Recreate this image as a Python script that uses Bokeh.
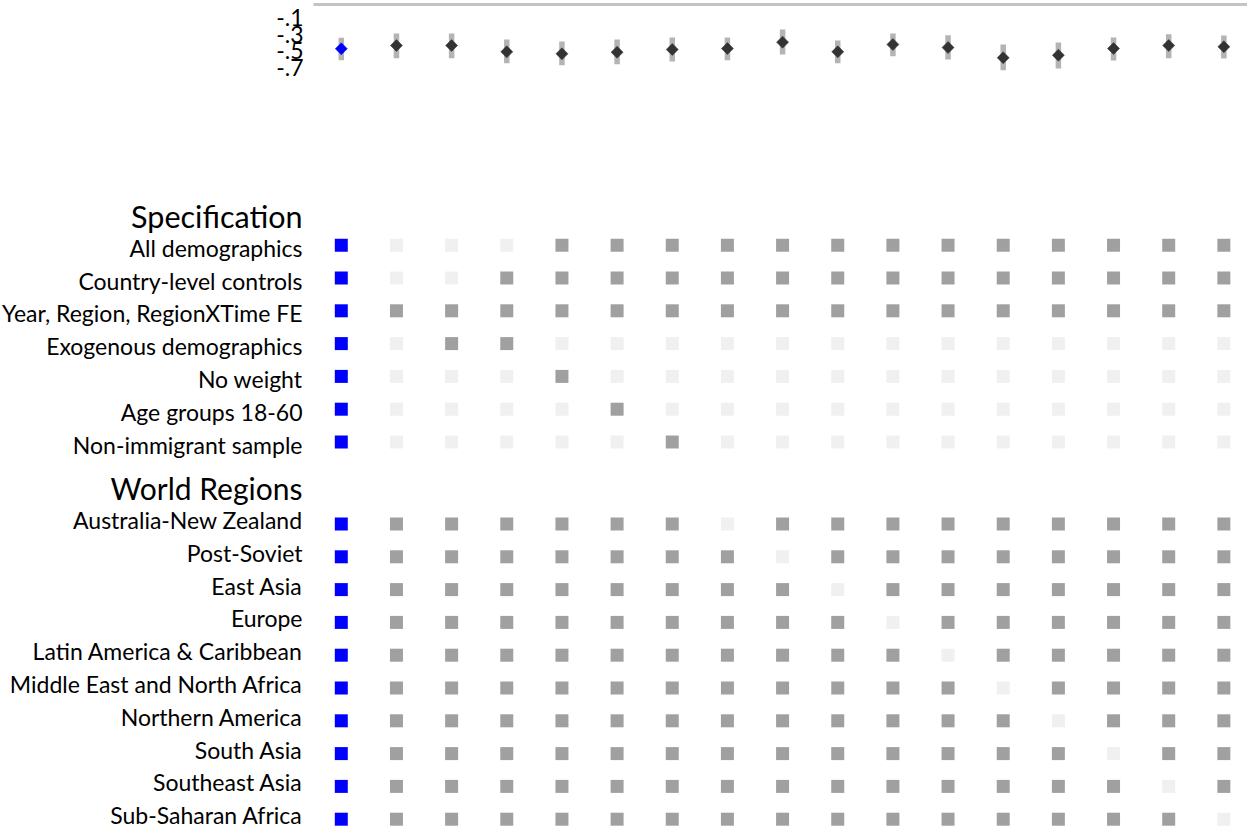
import math
from bokeh.plotting import figure
from bokeh.models import Range1d, ColumnDataSource
from bokeh.core.properties import value
from bokeh.embed import file_html
from bokeh.resources import INLINE

# ---------------- data ----------------
columns = list(range(1, 18))
coef = [-0.479, -0.439, -0.439, -0.516, -0.540, -0.521, -0.488, -0.476, -0.399,
        -0.516, -0.427, -0.464, -0.588, -0.557, -0.476, -0.439, -0.455]
ci_low = [-0.618, -0.593, -0.593, -0.654, -0.678, -0.666, -0.633, -0.618, -0.548,
          -0.654, -0.569, -0.609, -0.739, -0.718, -0.621, -0.593, -0.597]
ci_high = [-0.346, -0.294, -0.294, -0.367, -0.391, -0.367, -0.342, -0.342, -0.245,
           -0.379, -0.294, -0.315, -0.427, -0.403, -0.342, -0.302, -0.318]
y_ticks = [-0.1, -0.3, -0.5, -0.7]
y_tick_labels = ["-.1", "-.3", "-.5", "-.7"]
baseline_col = 1

spec_header = "Specification"
spec_labels = ["All demographics", "Country-level controls", "Year, Region, RegionXTime FE",
               "Exogenous demographics", "No weight", "Age groups 18-60", "Non-immigrant sample"]
spec_included = [
    [1, 0, 0, 0, 1, 1, 1, 1, 1, 1, 1, 1, 1, 1, 1, 1, 1],
    [1, 0, 0, 1, 1, 1, 1, 1, 1, 1, 1, 1, 1, 1, 1, 1, 1],
    [1, 1, 1, 1, 1, 1, 1, 1, 1, 1, 1, 1, 1, 1, 1, 1, 1],
    [1, 0, 1, 1, 0, 0, 0, 0, 0, 0, 0, 0, 0, 0, 0, 0, 0],
    [1, 0, 0, 0, 1, 0, 0, 0, 0, 0, 0, 0, 0, 0, 0, 0, 0],
    [1, 0, 0, 0, 0, 1, 0, 0, 0, 0, 0, 0, 0, 0, 0, 0, 0],
    [1, 0, 0, 0, 0, 0, 1, 0, 0, 0, 0, 0, 0, 0, 0, 0, 0],
]

region_header = "World Regions"
region_labels = ["Australia-New Zealand", "Post-Soviet", "East Asia", "Europe",
                 "Latin America & Caribbean", "Middle East and North Africa",
                 "Northern America", "South Asia", "Southeast Asia", "Sub-Saharan Africa"]
region_included = [
    [1, 1, 1, 1, 1, 1, 1, 0, 1, 1, 1, 1, 1, 1, 1, 1, 1],
    [1, 1, 1, 1, 1, 1, 1, 1, 0, 1, 1, 1, 1, 1, 1, 1, 1],
    [1, 1, 1, 1, 1, 1, 1, 1, 1, 0, 1, 1, 1, 1, 1, 1, 1],
    [1, 1, 1, 1, 1, 1, 1, 1, 1, 1, 0, 1, 1, 1, 1, 1, 1],
    [1, 1, 1, 1, 1, 1, 1, 1, 1, 1, 1, 0, 1, 1, 1, 1, 1],
    [1, 1, 1, 1, 1, 1, 1, 1, 1, 1, 1, 1, 0, 1, 1, 1, 1],
    [1, 1, 1, 1, 1, 1, 1, 1, 1, 1, 1, 1, 1, 0, 1, 1, 1],
    [1, 1, 1, 1, 1, 1, 1, 1, 1, 1, 1, 1, 1, 1, 0, 1, 1],
    [1, 1, 1, 1, 1, 1, 1, 1, 1, 1, 1, 1, 1, 1, 1, 0, 1],
    [1, 1, 1, 1, 1, 1, 1, 1, 1, 1, 1, 1, 1, 1, 1, 1, 0],
]

# ---------------- layout constants ----------------
FONT = "Lato"
BLUE = "#0000ff"
POINT = "#333333"
CI = "#b4b4b4"
ON = "#a0a0a0"
OFF = "#f0f0f0"
W, H = 1247, 828
PX_COL = 55.16          # pixels between columns
COL1_X = 340.8          # pixel position of column 1
PX_UNIT = 82.5          # pixels per unit of the coefficient scale
COEF_REF_PX = 17        # pixel position of -0.1
ROW_PX = 32.8           # pixels between matrix rows
ROW0_PX = 244.7         # pixel position of first matrix row
LINE_X0_PX = 313        # left end of the top rule
LINE_Y_PX = 4
LABEL_RIGHT_PX = 302

x_start = 1 - COL1_X / PX_COL
x_end = x_start + W / PX_COL
coef_top = -0.1 + COEF_REF_PX / PX_UNIT
row_top = -ROW0_PX / ROW_PX

p = figure(width=W, height=H, output_backend="svg", toolbar_location=None,
           x_axis_location=None, y_axis_location=None,
           x_range=Range1d(x_start, x_end),
           y_range=Range1d(row_top + H / ROW_PX, row_top),
           min_border_left=0, min_border_right=0, min_border_top=0, min_border_bottom=0)
p.extra_y_ranges = {"coef": Range1d(coef_top - H / PX_UNIT, coef_top)}
p.outline_line_color = None
p.grid.visible = False
p.background_fill_color = "white"

lab_x_off = LABEL_RIGHT_PX - COL1_X

# ---------------- top panel ----------------
line_y = coef_top - LINE_Y_PX / PX_UNIT
line_x0 = 1 - (COL1_X - LINE_X0_PX) / PX_COL
p.segment(x0=[line_x0], y0=[line_y], x1=[x_end], y1=[line_y], y_range_name="coef",
          line_color="#c4c4c4", line_width=3, line_cap="butt")

p.text(x=[1] * len(y_ticks), y=y_ticks, text=y_tick_labels, y_range_name="coef",
       text_font=value(FONT), text_font_size="23px", text_color="black",
       text_align="right", text_baseline="middle", x_offset=lab_x_off + 1)

pt_colors = [BLUE if c == baseline_col else POINT for c in columns]
src1 = ColumnDataSource(dict(x=columns, y=coef, lo=ci_low, hi=ci_high, c=pt_colors))
p.segment(x0="x", y0="lo", x1="x", y1="hi", source=src1, y_range_name="coef",
          line_color=CI, line_width=5.5, line_cap="butt")
p.scatter(x="x", y="y", source=src1, y_range_name="coef", marker="square",
          angle=math.pi / 4, size=8.5, fill_color="c", line_color="c", line_width=0.5)

# ---------------- matrix panel ----------------
region_start = len(spec_labels) + 1.5

xs, ys, cs = [], [], []
for i, row in enumerate(spec_included):
    for c, on in zip(columns, row):
        xs.append(c); ys.append(i)
        cs.append(BLUE if c == baseline_col else (ON if on else OFF))
for i, row in enumerate(region_included):
    for c, on in zip(columns, row):
        xs.append(c); ys.append(region_start + i)
        cs.append(BLUE if c == baseline_col else (ON if on else OFF))
p.scatter(x=xs, y=ys, color=cs, marker="square", size=13, line_width=0)

p.text(x=[1] * len(spec_labels), y=list(range(len(spec_labels))), text=spec_labels,
       text_font=value(FONT), text_font_size="23px", text_color="black",
       text_align="right", text_baseline="alphabetic", x_offset=lab_x_off, y_offset=2.5)
p.text(x=[1] * len(region_labels), y=[region_start + i for i in range(len(region_labels))],
       text=region_labels,
       text_font=value(FONT), text_font_size="23px", text_color="black",
       text_align="right", text_baseline="alphabetic", x_offset=lab_x_off, y_offset=-4)
p.text(x=[1], y=[-1], text=[spec_header], text_font=value(FONT), text_font_size="30.5px",
       text_color="black", text_align="right", text_baseline="alphabetic",
       x_offset=lab_x_off, y_offset=4)
p.text(x=[1], y=[region_start - 1], text=[region_header], text_font=value(FONT),
       text_font_size="30px", text_color="black", text_align="right",
       text_baseline="alphabetic", x_offset=lab_x_off, y_offset=-3.7)

open("out.html", "w").write(file_html(p, INLINE))
